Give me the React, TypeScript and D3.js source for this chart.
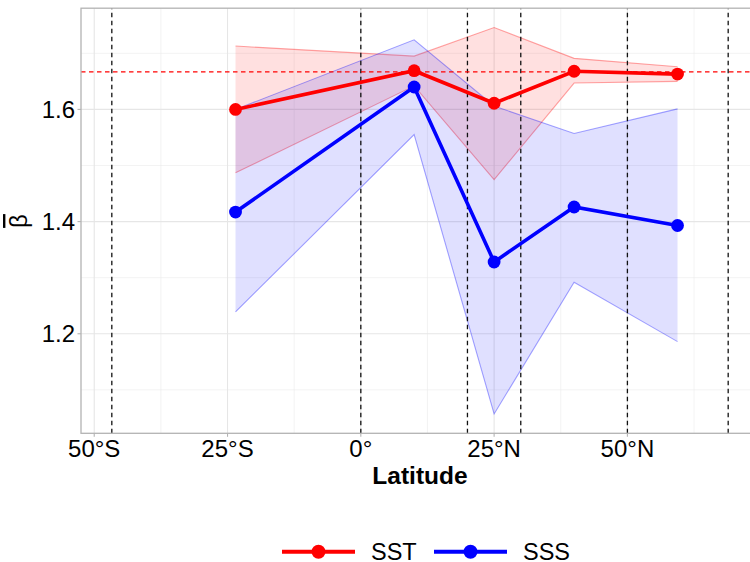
import React from "react";
import * as d3 from "d3";

const latitudes = [-23.5, 10, 25, 40, 59.4];
const sstMean = [1.600, 1.669, 1.611, 1.668, 1.663];
const sstLower = [1.487, 1.642, 1.475, 1.647, 1.650];
const sstUpper = [1.713, 1.695, 1.746, 1.691, 1.676];
const sssMean = [1.417, 1.640, 1.328, 1.426, 1.393];
const sssLower = [1.239, 1.555, 1.057, 1.292, 1.186];
const sssUpper = [1.600, 1.724, 1.606, 1.557, 1.601];
const refLine = 1.667;
const vLines = [-46.7, 0, 20, 30, 50, 68.9];
const xTicks = [-50, -25, 0, 25, 50];
const xTickLabels = ["50°S", "25°S", "0°", "25°N", "50°N"];
const xMinor = [-37.5, -12.5, 12.5, 37.5, 62.5];
const yTicks = [1.2, 1.4, 1.6];
const yMinor = [1.1, 1.3, 1.5, 1.7];

const W = 750, H = 562;
const FONT = "'Liberation Sans', Arial, Helvetica, sans-serif";

function expand(lo: number, hi: number) {
  const d = (hi - lo) * 0.05;
  return [lo - d, hi + d];
}

export default function App() {
  const xAll = [...latitudes, ...vLines];
  const yAll = [...sstLower, ...sstUpper, ...sssLower, ...sssUpper];
  const x = d3.scaleLinear().domain(expand(d3.min(xAll)!, d3.max(xAll)!)).range([81, 759]);
  const y = d3.scaleLinear().domain(expand(d3.min(yAll)!, d3.max(yAll)!)).range([433.3, 8.2]);
  const [px0, px1] = x.range();
  const [py0, py1] = y.range();

  const area = (lo: number[], hi: number[]) =>
    d3.area<number>().x((_, i) => x(latitudes[i])).y0((_, i) => y(lo[i])).y1((_, i) => y(hi[i]))(latitudes)!;
  const line = (v: number[]) =>
    d3.line<number>().x((_, i) => x(latitudes[i])).y((d) => y(d))(v)!;

  const series = [
    { name: "SST", color: "#ff0000", mean: sstMean, lo: sstLower, hi: sstUpper, fill: "rgba(255,0,0,0.12)", edge: "rgba(255,0,0,0.35)" },
    { name: "SSS", color: "#0000ff", mean: sssMean, lo: sssLower, hi: sssUpper, fill: "rgba(0,0,255,0.12)", edge: "rgba(0,0,255,0.35)" },
  ];

  return (
    <svg width={W} height={H} style={{ position: "absolute", left: 0, top: 0, background: "#fff" }} fontFamily={FONT}>
      <rect x={0} y={0} width={W} height={H} fill="#fff" />
      {/* grid */}
      {yMinor.map((v) => (
        <line key={"ym" + v} x1={px0} x2={px1} y1={y(v)} y2={y(v)} stroke="#ebebeb" strokeWidth={0.6} />
      ))}
      {xMinor.map((v) => (
        <line key={"xm" + v} x1={x(v)} x2={x(v)} y1={py0} y2={py1} stroke="#ebebeb" strokeWidth={0.6} />
      ))}
      {yTicks.map((v) => (
        <line key={"yg" + v} x1={px0} x2={px1} y1={y(v)} y2={y(v)} stroke="#e6e6e6" strokeWidth={1.1} />
      ))}
      {xTicks.map((v) => (
        <line key={"xg" + v} x1={x(v)} x2={x(v)} y1={py0} y2={py1} stroke="#e6e6e6" strokeWidth={1.1} />
      ))}
      {/* ribbons */}
      {series.map((s) => (
        <g key={"rib" + s.name}>
          <path d={area(s.lo, s.hi)} fill={s.fill} stroke="none" />
          <path d={line(s.lo)} fill="none" stroke={s.edge} strokeWidth={1.1} />
          <path d={line(s.hi)} fill="none" stroke={s.edge} strokeWidth={1.1} />
        </g>
      ))}
      {/* reference lines */}
      {vLines.map((v) => (
        <line key={"v" + v} x1={x(v)} x2={x(v)} y1={py0} y2={py1} stroke="#111" strokeWidth={1.3} strokeDasharray="4.5,3.5" />
      ))}
      <line x1={px0} x2={px1} y1={y(refLine)} y2={y(refLine)} stroke="#ff0000" strokeWidth={1.3} strokeDasharray="4.5,3.5" />
      {/* series */}
      {series.map((s) => (
        <g key={"s" + s.name}>
          <path d={line(s.mean)} fill="none" stroke={s.color} strokeWidth={3.6} />
          {s.mean.map((v, i) => (
            <circle key={i} cx={x(latitudes[i])} cy={y(v)} r={6.4} fill={s.color} />
          ))}
        </g>
      ))}
      {/* panel border */}
      <rect x={px0} y={py1} width={px1 - px0} height={py0 - py1} fill="none" stroke="#b3b3b3" strokeWidth={1.3} />
      {/* y axis */}
      {yTicks.map((v) => (
        <g key={"yt" + v}>
          <line x1={px0 - 3.5} x2={px0} y1={y(v)} y2={y(v)} stroke="#b3b3b3" strokeWidth={1.1} />
          <text x={px0 - 6} y={y(v)} dy="0.36em" textAnchor="end" fontSize={24} fill="#000">
            {v.toFixed(1)}
          </text>
        </g>
      ))}
      {/* x axis */}
      {xTicks.map((v, i) => (
        <g key={"xt" + v}>
          <line x1={x(v)} x2={x(v)} y1={py0} y2={py0 + 3.5} stroke="#b3b3b3" strokeWidth={1.1} />
          <text x={x(v)} y={456.5} textAnchor="middle" fontSize={24} fill="#000">
            {xTickLabels[i]}
          </text>
        </g>
      ))}
      <text x={(px0 + px1) / 2} y={483.5} textAnchor="middle" fontSize={24.5} fontWeight="bold" fill="#000">
        Latitude
      </text>
      <text transform="translate(27,221) rotate(-90)" textAnchor="middle" fontSize={24} fill="#000" style={{ textDecoration: "overline" }}>
        β
      </text>
      {/* legend */}
      {series.map((s, i) => {
        const lx = i === 0 ? 282 : 434;
        const ly = 551.7;
        return (
          <g key={"lg" + s.name}>
            <line x1={lx} x2={lx + 73} y1={ly} y2={ly} stroke={s.color} strokeWidth={4} />
            <circle cx={lx + 36.5} cy={ly} r={7} fill={s.color} />
            <text x={lx + 89} y={ly} dy="0.36em" fontSize={23.5} fill="#000">
              {s.name}
            </text>
          </g>
        );
      })}
    </svg>
  );
}
